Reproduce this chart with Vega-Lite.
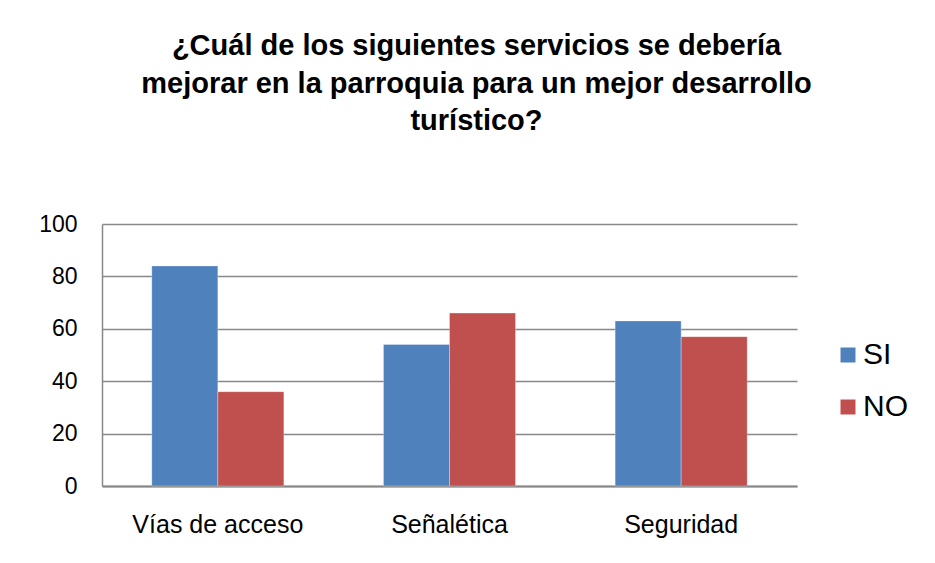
{
  "$schema": "https://vega.github.io/schema/vega-lite/v6.json",
  "width": 695,
  "height": 262,
  "autosize": {"type": "none"},
  "padding": {"left": 102, "top": 224, "right": 138, "bottom": 77},
  "background": "white",
  "title": {
    "text": ["¿Cuál de los siguientes servicios se debería", "mejorar en la parroquia para un mejor desarrollo", "turístico?"],
    "font": "Liberation Sans",
    "fontSize": 29,
    "fontWeight": "bold",
    "color": "#000000",
    "lineHeight": 37.5,
    "anchor": "middle",
    "dx": 27,
    "offset": 77
  },
  "data": {
    "values": [
      {"servicio": "Vías de acceso", "respuesta": "SI", "valor": 84},
      {"servicio": "Vías de acceso", "respuesta": "NO", "valor": 36},
      {"servicio": "Señalética", "respuesta": "SI", "valor": 54},
      {"servicio": "Señalética", "respuesta": "NO", "valor": 66},
      {"servicio": "Seguridad", "respuesta": "SI", "valor": 63},
      {"servicio": "Seguridad", "respuesta": "NO", "valor": 57}
    ]
  },
  "mark": {"type": "bar", "stroke": "white", "strokeWidth": 0.5, "strokeOpacity": 0.6},
  "encoding": {
    "x": {
      "field": "servicio",
      "type": "nominal",
      "sort": ["Vías de acceso", "Señalética", "Seguridad"],
      "scale": {"paddingInner": 0.43, "paddingOuter": 0.215},
      "axis": {
        "title": null,
        "labelAngle": 0,
        "labelFont": "Liberation Sans",
        "labelFontSize": 25,
        "labelColor": "#000000",
        "labelPadding": 26,
        "ticks": false,
        "domainColor": "#888888",
        "domainWidth": 2,
        "grid": false
      }
    },
    "xOffset": {"field": "respuesta", "type": "nominal", "sort": ["SI", "NO"]},
    "y": {
      "field": "valor",
      "type": "quantitative",
      "scale": {"domain": [0, 100], "nice": false},
      "axis": {
        "title": null,
        "values": [0, 20, 40, 60, 80, 100],
        "labelFont": "Liberation Sans",
        "labelFontSize": 23,
        "labelColor": "#000000",
        "labelPadding": 25,
        "ticks": false,
        "domainColor": "#888888",
        "domainWidth": 1.5,
        "gridColor": "#888888",
        "gridWidth": 1.5
      }
    },
    "color": {
      "field": "respuesta",
      "type": "nominal",
      "sort": ["SI", "NO"],
      "scale": {"domain": ["SI", "NO"], "range": ["#4F81BD", "#C0504D"]},
      "legend": {
        "title": null,
        "orient": "none",
        "legendX": 731,
        "legendY": 116,
        "symbolType": "square",
        "symbolSize": 225,
        "symbolStrokeWidth": 0,
        "labelFont": "Liberation Sans",
        "labelFontSize": 30,
        "labelColor": "#000000",
        "labelOffset": 0,
        "rowPadding": 22
      }
    }
  },
  "config": {
    "view": {"stroke": null}
  }
}
